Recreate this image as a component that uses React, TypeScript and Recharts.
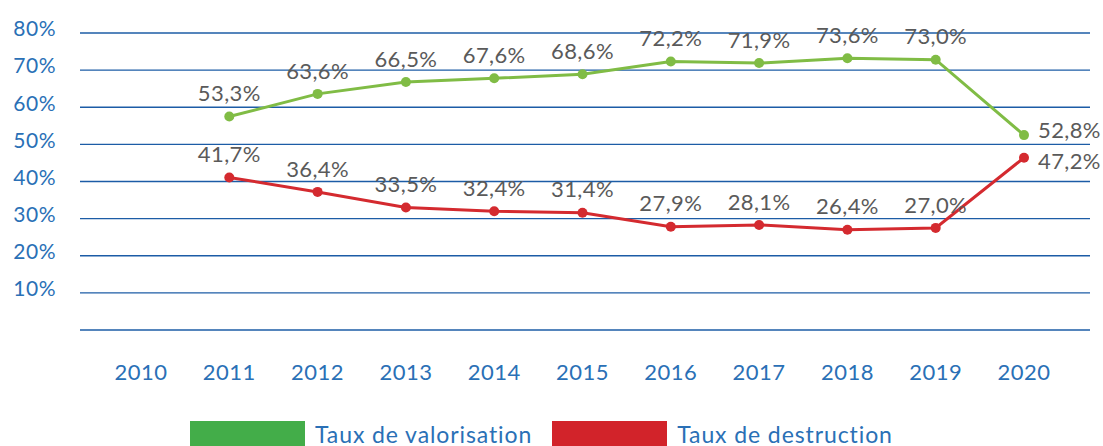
import { useEffect } from 'react';
import {
  CartesianGrid,
  LabelList,
  Line,
  LineChart,
  XAxis,
  YAxis,
} from 'recharts';

const years = ['2010', '2011', '2012', '2013', '2014', '2015', '2016', '2017', '2018', '2019', '2020'];
const valorisation = [null, 57.5, 63.6, 66.8, 67.8, 68.9, 72.3, 71.9, 73.2, 72.8, 52.5];
const destruction = [null, 41.1, 37.2, 33.0, 32.0, 31.6, 27.8, 28.3, 27.0, 27.5, 46.4];
const valorisationLabels = ['', '53,3%', '63,6%', '66,5%', '67,6%', '68,6%', '72,2%', '71,9%', '73,6%', '73,0%', '52,8%'];
const destructionLabels = ['', '41,7%', '36,4%', '33,5%', '32,4%', '31,4%', '27,9%', '28,1%', '26,4%', '27,0%', '47,2%'];
const yTicks = [0, 10, 20, 30, 40, 50, 60, 70, 80];

const GREEN = '#80bc45';
const RED = '#d42a2f';
const GREEN_LEGEND = '#43ad49';
const RED_LEGEND = '#d2232a';
const BLUE_TEXT = '#2a70b6';
const GRID = '#1c5ca6';
const LABEL_GRAY = '#5a5a5a';
const FONT = 'Lato, "Noto Sans", sans-serif';

const data = years.map((year, i) => ({
  year,
  valorisation: valorisation[i],
  destruction: destruction[i],
}));

interface TickProps {
  x?: number;
  y?: number;
  payload?: { value: string | number };
}

function YTick({ x = 0, y = 0, payload }: TickProps) {
  const v = Number(payload?.value);
  if (v === 0) return null;
  return (
    <text x={x} y={y - 4} dy="0.35em" textAnchor="end" fill={BLUE_TEXT} fontSize={21} fontFamily={FONT} letterSpacing={0.5}>
      {`${v}%`}
    </text>
  );
}

function XTick({ x = 0, y = 0, payload }: TickProps) {
  return (
    <text x={x} y={y + 40} dy="0.35em" textAnchor="middle" fill={BLUE_TEXT} fontSize={22} fontFamily={FONT} letterSpacing={0.5}>
      {payload?.value}
    </text>
  );
}

function makeLabel(labels: string[], lastDy: number) {
  return (props: any) => {
    const { x, y, index } = props;
    const text = labels[index];
    if (!text || x == null || y == null) return null;
    const last = index === labels.length - 1;
    return (
      <text
        x={last ? x + 14 : x}
        y={last ? y + lastDy : y - 23}
        dy="0.35em"
        textAnchor={last ? 'start' : 'middle'}
        fill={LABEL_GRAY}
        fontSize={22}
        fontFamily={FONT}
        letterSpacing={0.4}
      >
        {text}
      </text>
    );
  };
}

function LegendItem({ color, label }: { color: string; label: string }) {
  return (
    <div style={{ display: 'flex', alignItems: 'center', marginRight: 20 }}>
      <span style={{ display: 'inline-block', width: 115, height: 26, background: color, marginRight: 10 }} />
      <span style={{ color: BLUE_TEXT, fontSize: 23, fontFamily: FONT, lineHeight: '26px', letterSpacing: 0.9 }}>{label}</span>
    </div>
  );
}

export default function App() {
  useEffect(() => {
    document.body.style.margin = '0';
  }, []);

  return (
    <div style={{ position: 'relative', width: 1103, height: 446, overflow: 'hidden', background: '#fff' }}>
      <LineChart width={1103} height={446} data={data} margin={{ top: 33, right: 13, bottom: 76, left: 0 }}>
        <CartesianGrid vertical={false} stroke={GRID} strokeWidth={1.3} />
        <XAxis
          dataKey="year"
          axisLine={false}
          tickLine={false}
          tickSize={0}
          height={40}
          padding={{ left: 61, right: 66 }}
          tick={<XTick />}
          interval={0}
        />
        <YAxis
          domain={[0, 80]}
          ticks={yTicks}
          axisLine={false}
          tickLine={false}
          tickSize={0}
          tickMargin={24}
          width={80}
          tick={<YTick />}
        />
        <Line
          dataKey="valorisation"
          stroke={GREEN}
          strokeWidth={3}
          dot={{ r: 5, fill: GREEN, stroke: GREEN, strokeWidth: 0 }}
          isAnimationActive={false}
        >
          <LabelList dataKey="valorisation" content={makeLabel(valorisationLabels, -5)} />
        </Line>
        <Line
          dataKey="destruction"
          stroke={RED}
          strokeWidth={3}
          dot={{ r: 5, fill: RED, stroke: RED, strokeWidth: 0 }}
          isAnimationActive={false}
        >
          <LabelList dataKey="destruction" content={makeLabel(destructionLabels, 4)} />
        </Line>
      </LineChart>
      <div style={{ position: 'absolute', left: 190, top: 421, display: 'flex' }}>
        <LegendItem color={GREEN_LEGEND} label="Taux de valorisation" />
        <LegendItem color={RED_LEGEND} label="Taux de destruction" />
      </div>
    </div>
  );
}
